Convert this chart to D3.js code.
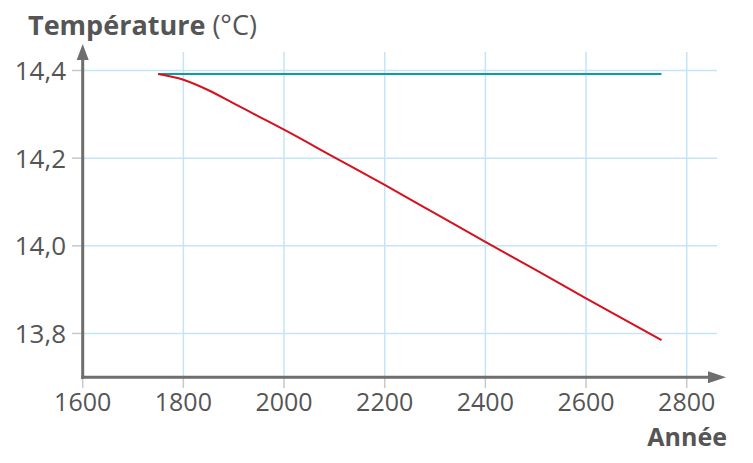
<!DOCTYPE html>
<html>
<head>
<meta charset="utf-8">
<script src="https://cdn.jsdelivr.net/npm/d3@7"></script>
<style>
  body { margin: 0; background: #fff; }
  text { font-family: "Open Sans", sans-serif; fill: #555; }
</style>
</head>
<body>
<div id="chart"></div>
<script>
// data
var years = [1750, 1800, 1850, 1900, 1950, 2000, 2100, 2200, 2300, 2400, 2500, 2600, 2750];
var tempRed = [14.392, 14.379, 14.355, 14.325, 14.295, 14.265, 14.202, 14.139, 14.074, 14.009, 13.945, 13.880, 13.785];
var tempTeal = [14.392, 14.392];
var tealYears = [1750, 2750];
var xTicks = [1600, 1800, 2000, 2200, 2400, 2600, 2800];
var yTicks = [13.8, 14.0, 14.2, 14.4];

var W = 753, H = 463;

var svg = d3.select("#chart").append("svg")
    .attr("width", W)
    .attr("height", H);

var x = d3.scaleLinear().domain([1600, 2800]).range([82.7, 686.7]);
var y = d3.scaleLinear().domain([13.7, 14.4]).range([377.3, 70.5]);

var x0 = x(1600), y0 = y(13.7);

// grid
svg.append("g").selectAll("line.vg")
    .data(xTicks.slice(1))
    .enter().append("line")
    .attr("x1", function (d) { return x(d); })
    .attr("x2", function (d) { return x(d); })
    .attr("y1", 52)
    .attr("y2", y0)
    .style("stroke", "#c3e5f7")
    .style("stroke-width", 1.5);

svg.append("g").selectAll("line.hg")
    .data(yTicks)
    .enter().append("line")
    .attr("x1", x0)
    .attr("x2", 717)
    .attr("y1", function (d) { return y(d); })
    .attr("y2", function (d) { return y(d); })
    .style("stroke", "#c3e5f7")
    .style("stroke-width", 1.5);

// tick marks
svg.append("g").selectAll("line")
    .data(yTicks)
    .enter().append("line")
    .attr("x1", 72).attr("x2", x0)
    .attr("y1", function (d) { return y(d); })
    .attr("y2", function (d) { return y(d); })
    .style("stroke", "#c8c8c8")
    .style("stroke-width", 1.5);

svg.append("g").selectAll("line")
    .data(xTicks)
    .enter().append("line")
    .attr("x1", function (d) { return x(d); })
    .attr("x2", function (d) { return x(d); })
    .attr("y1", y0).attr("y2", 388)
    .style("stroke", "#c8c8c8")
    .style("stroke-width", 1.5);

// tick labels
svg.append("g").selectAll("text")
    .data(yTicks)
    .enter().append("text")
    .attr("x", 66)
    .attr("y", function (d) { return y(d); })
    .attr("dy", "0.36em")
    .attr("text-anchor", "end")
    .style("font-size", "26px")
    .text(function (d) { return d.toFixed(1).replace(".", ","); });

svg.append("g").selectAll("text")
    .data(xTicks)
    .enter().append("text")
    .attr("x", function (d) { return x(d); })
    .attr("y", 411)
    .attr("text-anchor", "middle")
    .style("font-size", "25px")
    .text(function (d) { return d; });

// axes with arrows
svg.append("line")
    .attr("x1", x0).attr("x2", x0)
    .attr("y1", y0 + 1.5).attr("y2", 54)
    .style("stroke", "#6e6e6e")
    .style("stroke-width", 3);
svg.append("path")
    .attr("d", "M" + (x0 - 6) + ",60 L" + x0 + ",44 L" + (x0 + 6) + ",60 Z")
    .style("fill", "#6e6e6e");

svg.append("line")
    .attr("x1", x0 - 1.5).attr("x2", 712)
    .attr("y1", y0).attr("y2", y0)
    .style("stroke", "#6e6e6e")
    .style("stroke-width", 3);
svg.append("path")
    .attr("d", "M708," + (y0 - 6) + " L726," + y0 + " L708," + (y0 + 6) + " Z")
    .style("fill", "#6e6e6e");

// series
var line = d3.line()
    .x(function (d) { return x(d[0]); })
    .y(function (d) { return y(d[1]); });

svg.append("path")
    .attr("d", line(d3.zip(tealYears, tempTeal)))
    .style("fill", "none")
    .style("stroke", "#0a9ea4")
    .style("stroke-width", 2);

svg.append("path")
    .attr("d", line.curve(d3.curveMonotoneX)(d3.zip(years, tempRed)))
    .style("fill", "none")
    .style("stroke", "#d7101e")
    .style("stroke-width", 2);

// axis titles
var t = svg.append("text")
    .attr("x", 28)
    .attr("y", 35)
    .style("font-size", "27px");
t.append("tspan").style("font-weight", "bold").text("Température");
t.append("tspan").text(" (°C)");

svg.append("text")
    .attr("x", 727)
    .attr("y", 446)
    .attr("text-anchor", "end")
    .style("font-size", "25px")
    .style("font-weight", "bold")
    .text("Année");
</script>
</body>
</html>
